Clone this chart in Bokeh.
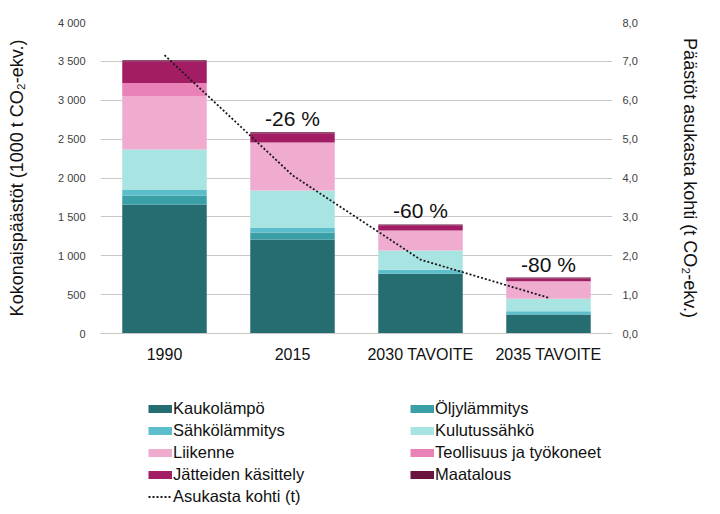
from bokeh.plotting import figure
from bokeh.models import (ColumnDataSource, Range1d, LinearAxis, Legend, LegendItem,
                          CustomJSTickFormatter, LabelSet, FactorRange)
from bokeh.layouts import column
from bokeh.core.properties import value
from bokeh.embed import file_html
from bokeh.resources import INLINE

categories = ["1990", "2015", "2030 TAVOITE", "2035 TAVOITE"]
kaukolampo = [1660, 1210, 768, 245]
oljylammitys = [116, 90, 0, 0]
sahkolammitys = [77, 64, 52, 42]
kulutussahko = [515, 476, 248, 160]
liikenne = [686, 618, 258, 226]
teollisuus = [168, 0, 0, 0]
jatteet = [280, 117, 65, 36]
maatalous = [12, 12, 12, 11]
asukasta_kohti = [7.16, 4.07, 1.90, 0.92]
muutos = ["", "-26 %", "-60 %", "-80 %"]

series = ["Kaukolämpö", "Öljylämmitys", "Sähkölämmitys", "Kulutussähkö",
          "Liikenne", "Teollisuus ja työkoneet", "Jätteiden käsittely", "Maatalous"]
keys = ["kauko", "oljy", "sahko", "kulutus", "liikenne", "teoll", "jatteet", "maatalous"]
colors = ["#256D70", "#3B9FA8", "#5BBECA", "#A8E5E2", "#EFACCE", "#E882B7", "#A21D63", "#6A1540"]

data = dict(cat=categories, kauko=kaukolampo, oljy=oljylammitys, sahko=sahkolammitys,
            kulutus=kulutussahko, liikenne=liikenne, teoll=teollisuus, jatteet=jatteet,
            maatalous=maatalous, line=asukasta_kohti)
totals = [sum(v) for v in zip(kaukolampo, oljylammitys, sahkolammitys, kulutussahko,
                              liikenne, teollisuus, jatteet, maatalous)]
data["total"] = totals
data["muutos"] = muutos
src = ColumnDataSource(data)

FONT = "Liberation Sans"

p = figure(width=704, height=370, x_range=FactorRange(*categories, range_padding=0),
           y_range=Range1d(0, 4000), output_backend="svg", toolbar_location=None,
           min_border_left=100, min_border_right=92, min_border_top=22, min_border_bottom=37)
p.x_range.factor_padding = 0
p.extra_y_ranges = {"per": Range1d(0, 8)}
p.outline_line_color = None

renderers = p.vbar_stack(keys, x="cat", width=0.66, source=src, color=colors, line_color=None)

line_r = p.line(x="cat", y="line", source=src, y_range_name="per", line_color="#1a1a1a",
                line_width=1.8, line_dash="2 2")

labels = LabelSet(x="cat", y="total", text="muutos", source=src, text_align="center",
                  text_baseline="alphabetic", y_offset=6, text_font=value(FONT),
                  text_font_size="21px", text_color="#111111")
p.add_layout(labels)

# axes
p.yaxis.axis_label = "Kokonaispäästöt (1000 t CO₂-ekv.)"
p.yaxis.ticker = list(range(0, 4001, 500))
p.yaxis.formatter = CustomJSTickFormatter(
    code="return tick.toFixed(0).replace(/\\B(?=(\\d{3})+(?!\\d))/g, ' ');")
p.yaxis.axis_line_color = None
p.yaxis.major_tick_line_color = None
p.yaxis.minor_tick_line_color = None
p.yaxis.major_label_standoff = 9
p.yaxis.axis_label_standoff = 28
p.yaxis.major_label_text_font = FONT
p.yaxis.major_label_text_font_size = "11px"
p.yaxis.major_label_text_color = "#404040"
p.yaxis.axis_label_text_font = FONT
p.yaxis.axis_label_text_font_size = "18px"
p.yaxis.axis_label_text_font_style = "normal"
p.yaxis.axis_label_text_color = "#111111"

ry = LinearAxis(y_range_name="per", ticker=list(range(0, 9)),
                formatter=CustomJSTickFormatter(code="return tick.toFixed(1).replace('.', ',');"))
ry.axis_label = "Päästöt asukasta kohti (t CO₂-ekv.)"
ry.axis_label_orientation = "vertical"
ry.axis_line_color = None
ry.major_tick_line_color = None
ry.minor_tick_line_color = None
ry.major_label_standoff = 4
ry.axis_label_standoff = 39
ry.major_label_text_font = FONT
ry.major_label_text_font_size = "11px"
ry.major_label_text_color = "#404040"
ry.axis_label_text_font = FONT
ry.axis_label_text_font_size = "18px"
ry.axis_label_text_font_style = "normal"
ry.axis_label_text_color = "#111111"
p.add_layout(ry, "right")

p.xaxis.axis_line_color = "#c6c6c6"
p.xaxis.major_tick_line_color = None
p.xaxis.minor_tick_line_color = None
p.xaxis.major_label_standoff = 6
p.xaxis.major_label_text_font = FONT
p.xaxis.major_label_text_font_size = "16px"
p.xaxis.major_label_text_color = "#111111"

p.xgrid.grid_line_color = None
p.ygrid.grid_line_color = "#c8c8c8"
p.ygrid.grid_line_width = 1

# legend figure (frame aligned with the chart's frame by the column layout)
lf = figure(width=704, height=136, x_range=Range1d(0, 1), y_range=Range1d(0, 1),
            output_backend="svg", toolbar_location=None,
            min_border_left=100, min_border_right=92, min_border_top=0, min_border_bottom=0)
lf.axis.visible = False
lf.grid.visible = False
lf.outline_line_color = None

# proxies: data outside the visible range so that nothing shows in the frame
proxies = [lf.line(x=[5, 6], y=[5, 6], line_color=c, line_width=8, line_cap="butt")
           for c in colors]
line_proxy = lf.line(x=[5, 6], y=[5, 6], line_color="#1a1a1a", line_width=1.8, line_dash="2 2")

left_items = [LegendItem(label=series[0], renderers=[proxies[0]]),
              LegendItem(label=series[2], renderers=[proxies[2]]),
              LegendItem(label=series[4], renderers=[proxies[4]]),
              LegendItem(label=series[6], renderers=[proxies[6]]),
              LegendItem(label="Asukasta kohti (t)", renderers=[line_proxy])]
right_items = [LegendItem(label=series[1], renderers=[proxies[1]]),
               LegendItem(label=series[3], renderers=[proxies[3]]),
               LegendItem(label=series[5], renderers=[proxies[5]]),
               LegendItem(label=series[7], renderers=[proxies[7]])]

def mk_legend(items, loc):
    return Legend(items=items, location=loc, padding=0, margin=0, spacing=3,
                  glyph_width=24, glyph_height=19, label_height=19, label_standoff=1,
                  label_text_font=FONT, label_text_font_size="16.5px", label_text_color="#111111",
                  border_line_color=None, background_fill_alpha=0)

lf.add_layout(mk_legend(left_items, (48, 0)))
lf.add_layout(mk_legend(right_items, (310, 22)))

layout = column(p, lf, spacing=0)
open("out.html", "w").write(file_html(layout, INLINE))
